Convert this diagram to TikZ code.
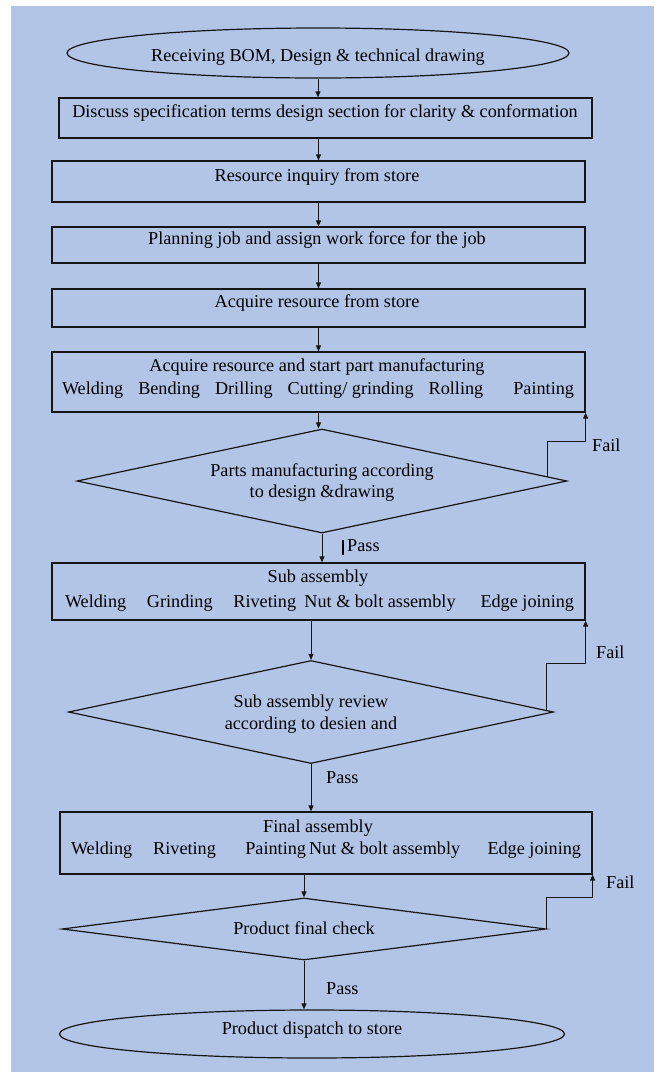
\documentclass[tikz,border=0pt]{standalone}
\usepackage{fontspec}
\setmainfont{Liberation Serif}
\usetikzlibrary{shapes.geometric,arrows.meta,calc}
\definecolor{bgblue}{HTML}{B2C5E7}
\definecolor{ink}{HTML}{161616}

\begin{document}
\begin{tikzpicture}[x=1pt,y=-1pt,
  txt/.style={inner sep=0pt, font=\fontsize{18.2}{21}\selectfont, text=black},
  frame/.style={draw=ink, line width=1.2pt, rectangle, inner sep=0pt},
  oval/.style={draw=ink, line width=1.2pt, ellipse, inner sep=0pt},
  decision/.style={draw=ink, line width=1.2pt, diamond, inner sep=0pt},
  flow/.style={draw=ink, line width=1pt, -{Triangle[length=6pt,width=5pt]}},
]
% page and background panel
\useasboundingbox (0,0) rectangle (654,1072);
\fill[bgblue] (11,6) rectangle (654,1072);

% shapes
\node[oval, minimum width=502, minimum height=50] (e1) at (318,53) {};
\node[frame, minimum width=533, minimum height=40] (b1) at (325.5,118) {};
\node[frame, minimum width=533, minimum height=41] (b2) at (318.5,181.5) {};
\node[frame, minimum width=533, minimum height=36] (b3) at (318.5,245) {};
\node[frame, minimum width=533, minimum height=38] (b4) at (318.5,308) {};
\node[frame, minimum width=533, minimum height=60] (b5) at (318.5,382) {};
\node[decision, minimum width=490, minimum height=104] (d1) at (322,481) {};
\node[frame, minimum width=533, minimum height=57] (b6) at (318.5,591.5) {};
\node[decision, minimum width=485, minimum height=103] (d2) at (311,712) {};
\node[frame, minimum width=532, minimum height=62] (b7) at (326,843) {};
\node[decision, minimum width=484, minimum height=62] (d3) at (304,929) {};
\node[oval, minimum width=505, minimum height=48] (e2) at (312,1034) {};

% texts
\node[txt] (t1) at (318,57) {Receiving BOM, Design \& technical drawing};
\node[txt] (t2) at (325,113) {Discuss specification terms design section for clarity \& conformation};
\node[txt] (t3) at (317,177) {Resource inquiry from store};
\node[txt] (t4) at (317,240) {Planning job and assign work force for the job};
\node[txt] (t5) at (317,303) {Acquire resource from store};
\node[txt] (t6a) at (317,367) {Acquire resource and start part manufacturing};
\node[txt] (t6b) at (318,390) {\makebox[512pt]{Welding\hspace{\stretch{1}}Bending\hspace{\stretch{1}}Drilling\hspace{\stretch{1}}Cutting/ grinding\hspace{\stretch{1}}Rolling\hspace{\stretch{2}}Painting}};
\node[txt] (t7a) at (322,472) {Parts manufacturing according};
\node[txt] (t7b) at (322,493) {to design \&drawing};
\node[txt] (t8a) at (318,578) {Sub assembly};
\node[txt] (t8b) at (319.5,603) {\makebox[509pt]{Welding\hspace{\stretch{1}}Grinding\hspace{\stretch{1}}Riveting\hspace{\stretch{0.4}}Nut \& bolt assembly\hspace{\stretch{1.2}}Edge joining}};
\node[txt] (t9a) at (311,703) {Sub assembly review};
\node[txt] (t9b) at (311,725) {according to desien and};
\node[txt] (t10a) at (318,828) {Final assembly};
\node[txt] (t10b) at (326,850) {\makebox[510pt]{Welding\hspace{\stretch{1}}Riveting\hspace{\stretch{1.4}}Painting\,Nut \& bolt assembly\hspace{\stretch{1.3}}Edge joining}};
\node[txt] (t11) at (304,928) {Product final check};
\node[txt] (t12) at (312,1030) {Product dispatch to store};

% main flow
\draw[flow] (e1.south) -- (e1.south |- b1.north);
\draw[flow] (b1.south -| b2.north) -- (b2.north);
\draw[flow] (b2.south) -- (b2.south |- b3.north);
\draw[flow] (b3.south) -- (b3.south |- b4.north);
\draw[flow] (b4.south) -- (b4.south |- b5.north);
\draw[flow] (b5.south) -- (b5.south |- d1.north);
\draw[flow] (d1.south) -- (d1.south |- b6.north);
\draw[flow] (b6.south -| d2.north) -- (d2.north);
\draw[flow] (d2.south) -- (d2.south |- b7.north);
\draw[flow] (b7.south -| d3.north) -- (d3.north);
\draw[flow] (d3.south) -- (d3.south |- e2.north);

% pass labels
\node[txt, anchor=west] (p1) at (342,547) {\rule[-3pt]{2pt}{15pt}\,Pass};
\node[txt, anchor=west] (p2) at (326,778) {Pass};
\node[txt, anchor=west] (p3) at (326,989) {Pass};

% fail loops
\coordinate (f1) at ($(d1.north)!0.92!(d1.east)$);
\coordinate (f2) at ($(d2.north)!0.97!(d2.east)$);
\draw[flow] (f1) -- ++(0,-35) -| (b5.south east);
\draw[flow] (f2) -- ++(0,-47) -| (b6.south east);
\draw[flow] (d3.east) -- ++(0,-32) -| (b7.south east);
\node[txt, anchor=west] (q1) at (592,445) {Fail};
\node[txt, anchor=west] (q2) at (596,652) {Fail};
\node[txt, anchor=west] (q3) at (606,882) {Fail};
\end{tikzpicture}
\end{document}
